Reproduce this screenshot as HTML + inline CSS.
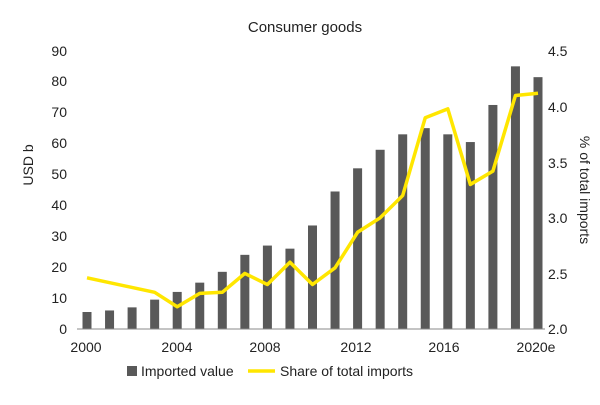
<!DOCTYPE html>
<html><head><meta charset="utf-8"><style>
body{margin:0;background:#fff}
svg text{font-family:"Liberation Sans Narrow","Liberation Sans",sans-serif;fill:#222}
</style></head><body>
<svg width="600" height="400" viewBox="0 0 600 400" xmlns="http://www.w3.org/2000/svg">
<text x="305" y="32" font-size="15" text-anchor="middle">Consumer goods</text>
<g font-size="14" text-anchor="end">
<text x="67" y="334">0</text><text x="67" y="303">10</text><text x="67" y="272">20</text>
<text x="67" y="241">30</text><text x="67" y="210">40</text><text x="67" y="179">50</text>
<text x="67" y="148">60</text><text x="67" y="117">70</text><text x="67" y="86">80</text><text x="67" y="56">90</text>
</g>
<g font-size="14" text-anchor="start">
<text x="548" y="334">2.0</text><text x="548" y="223">3.0</text><text x="548" y="279">2.5</text>
<text x="548" y="168">3.5</text><text x="548" y="112">4.0</text><text x="548" y="56">4.5</text>
</g>
<text transform="translate(33,165) rotate(-90)" font-size="14" text-anchor="middle">USD b</text>
<text transform="translate(580,190) rotate(90)" font-size="14" text-anchor="middle">% of total imports</text>
<g fill="#595959">
<rect x="82.5" y="312" width="9" height="17"/>
<rect x="105.05" y="310.46" width="9" height="18.54"/>
<rect x="127.6" y="307.37" width="9" height="21.63"/>
<rect x="150.15" y="299.64" width="9" height="29.36"/>
<rect x="172.7" y="291.92" width="9" height="37.08"/>
<rect x="195.25" y="282.65" width="9" height="46.35"/>
<rect x="217.8" y="271.83" width="9" height="57.17"/>
<rect x="240.35" y="254.84" width="9" height="74.16"/>
<rect x="262.9" y="245.57" width="9" height="83.43"/>
<rect x="285.45" y="248.66" width="9" height="80.34"/>
<rect x="308" y="225.48" width="9" height="103.52"/>
<rect x="330.55" y="191.49" width="9" height="137.51"/>
<rect x="353.1" y="168.32" width="9" height="160.68"/>
<rect x="375.65" y="149.78" width="9" height="179.22"/>
<rect x="398.2" y="134.33" width="9" height="194.67"/>
<rect x="420.75" y="128.15" width="9" height="200.85"/>
<rect x="443.3" y="134.33" width="9" height="194.67"/>
<rect x="465.85" y="142.05" width="9" height="186.95"/>
<rect x="488.4" y="104.97" width="9" height="224.03"/>
<rect x="510.95" y="66.35" width="9" height="262.65"/>
<rect x="533.5" y="77.16" width="9" height="251.84"/>
</g>
<line x1="77" y1="329" x2="545" y2="329" stroke="#888" stroke-width="1"/>
<polyline id="ln" fill="none" stroke="#ffe600" stroke-width="3.5" stroke-linejoin="round"/>
<g font-size="14" text-anchor="middle">
<text x="86" y="352">2000</text><text x="177" y="352">2004</text><text x="265" y="352">2008</text>
<text x="356" y="352">2012</text><text x="444" y="352">2016</text><text x="536" y="352">2020e</text>
</g>
<rect x="127" y="366" width="10" height="10" fill="#595959"/>
<text x="141" y="376" font-size="14">Imported value</text>
<line x1="248" y1="371" x2="275" y2="371" stroke="#ffe600" stroke-width="3.5"/>
<text x="280" y="376" font-size="14">Share of total imports</text>
<script>
function X(i){return 87+i*22.55;}
var L=[[0,2.46],[3,2.33],[4,2.2],[5,2.32],[6,2.33],[7,2.5],[8,2.4],[9,2.6],[10,2.4],[11,2.55],[12,2.87],[13,3.0],[14,3.2],[15,3.9],[16,3.98],[17,3.3],[18,3.42],[19,4.1],[20,4.12]];
document.getElementById('ln').setAttribute('points',L.map(function(p){return X(p[0])+','+(329-(p[1]-2)*111.2);}).join(' '));
</script>
</svg>
</body></html>
